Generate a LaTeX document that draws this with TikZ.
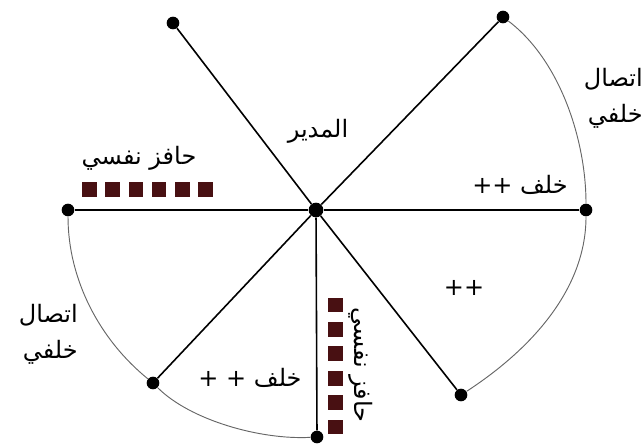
\documentclass[tikz,border=0pt]{standalone}
\usepackage{fontspec}
\newfontfamily\arabicfont[Script=Arabic]{DejaVu Sans}
\TeXXeTstate=1
\definecolor{sqred}{RGB}{72,16,18}
\begin{document}
\begin{tikzpicture}[x=0.75pt,y=-0.75pt,
    pt/.style={circle,fill=black,inner sep=0pt,minimum size=9.5pt},
    spoke/.style={line width=1.2pt},
    rim/.style={black!60,line width=0.7pt},
    sq/.style={fill=sqred,inner sep=0pt,minimum size=11pt},
    lbl/.style={font=\arabicfont\fontsize{18}{27}\selectfont,inner sep=0pt}]
  \useasboundingbox (0,0) rectangle (641,445);
  % centre and end points
  \node[pt,minimum size=11pt] (m) at (316,210) {};
  \node[pt] (tl) at (173,23) {};
  \node[pt] (tr) at (503,17) {};
  \node[pt] (r)  at (586,210) {};
  \node[pt] (l)  at (68,210) {};
  \node[pt] (bl) at (153,383) {};
  \node[pt] (b)  at (317,437) {};
  \node[pt] (br) at (461,395) {};
  % spokes
  \draw[spoke,line width=2pt] (l) -- (m) -- (r);
  \draw[spoke] (m) -- (tl);
  \draw[spoke] (m) -- (tr);
  \draw[spoke] (m) -- (bl);
  \draw[spoke] (m) -- (b);
  \draw[spoke] (m) -- (br);
  % rims
  \draw[rim] (tr) .. controls (560,60) and (586,140) .. (r)
    .. controls (586,290) and (530,350) .. (br);
  \draw[rim] (l) .. controls (68,280) and (100,340) .. (bl)
    .. controls (190,420) and (260,440) .. (b);
  % squares
  \foreach \i in {0,...,5} {
    \node[sq] (h\i) at (89.5+23.2*\i,189.5) {};
    \node[sq] (v\i) at (335.5,305+24.4*\i) {};
  }
  % labels
  \node[lbl] (boss) at (318,131) {\beginR المدير\endR};
  \node[lbl] (hmot) at (139,158) {\beginR حافز نفسي\endR};
  \node[lbl,rotate=-90] (vmot) at (361,365) {\beginR حافز نفسي\endR};
  \node[lbl] (back1) at (520,185) {\beginR خلف ++\endR};
  \node[lbl] (back2) at (250,378) {\beginR خلف + +\endR};
  \node[lbl] (plus) at (464,288) {++};
  \node[lbl,align=right,anchor=east] (rlink) at (643,98)
    {\beginR اتصال\endR\\\beginR خلفي\endR};
  \node[lbl,align=right,anchor=east] (llink) at (78,334)
    {\beginR اتصال\endR\\\beginR خلفي\endR};
\end{tikzpicture}
\end{document}
